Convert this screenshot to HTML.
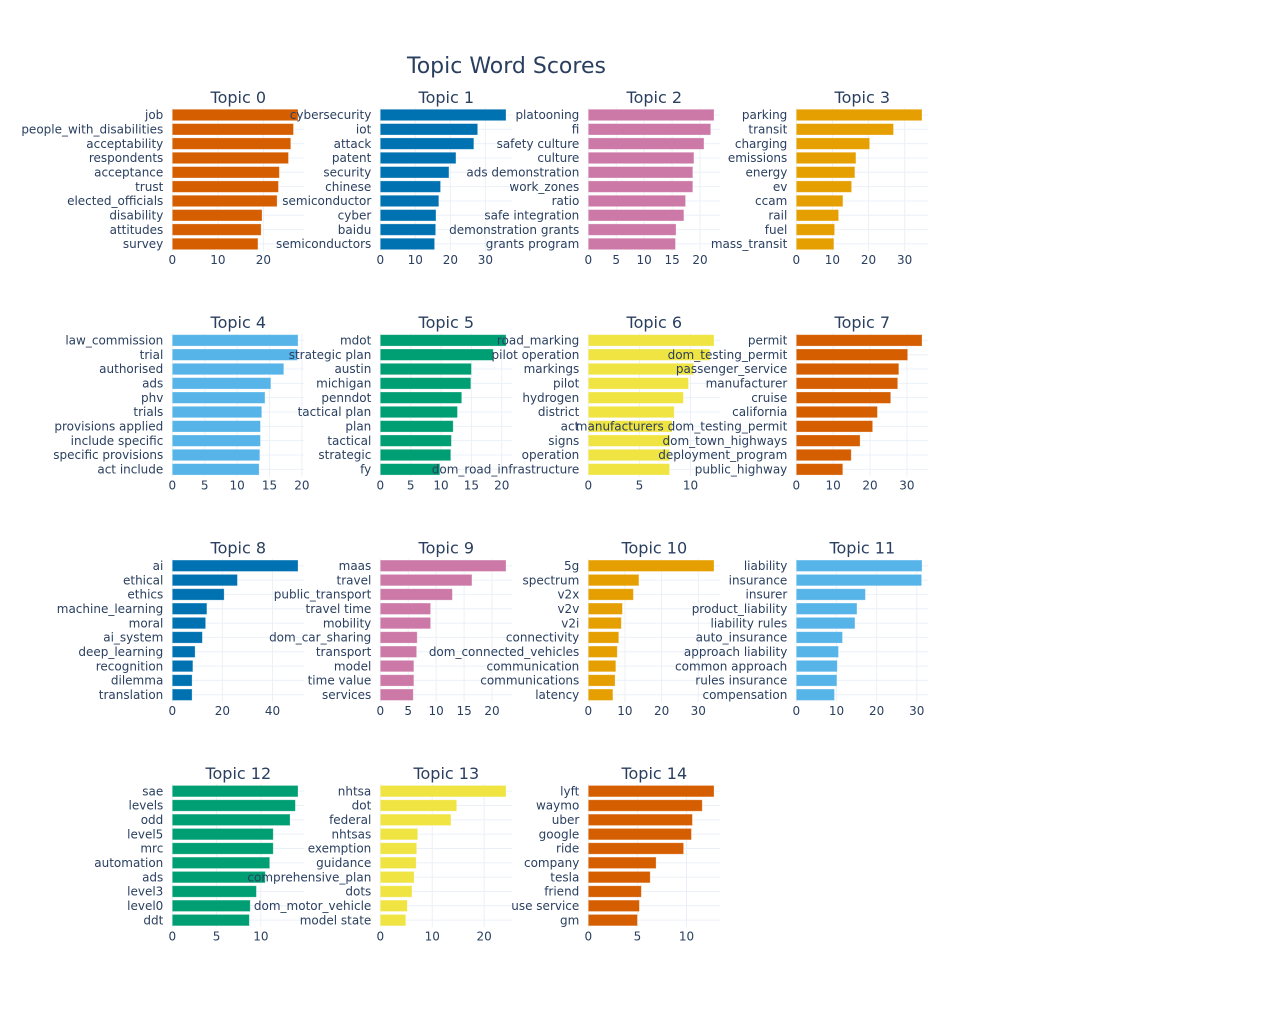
<!DOCTYPE html>
<html><head><meta charset="utf-8">
<style>
html,body{margin:0;padding:0;background:#fff;}
svg{display:block;font-family:"DejaVu Sans","Liberation Sans",sans-serif;}
</style></head>
<body>
<svg id="chart" width="1280" height="1016" viewBox="0 0 1280 1016" xmlns="http://www.w3.org/2000/svg">
<rect x="0" y="0" width="1280" height="1016" fill="#fff"/>
<text x="407" y="73" font-size="22" fill="#2a3f5f">Topic Word Scores</text>
</svg>
<script>
const topicNames = ["Topic 0","Topic 1","Topic 2","Topic 3","Topic 4","Topic 5","Topic 6","Topic 7","Topic 8","Topic 9","Topic 10","Topic 11","Topic 12","Topic 13","Topic 14"];
const words0 = ["job","people_with_disabilities","acceptability","respondents","acceptance","trust","elected_officials","disability","attitudes","survey"];
const scores0 = [27.6,26.6,26.0,25.5,23.5,23.3,23.0,19.7,19.5,18.8];
const words1 = ["cybersecurity","iot","attack","patent","security","chinese","semiconductor","cyber","baidu","semiconductors"];
const scores1 = [35.9,27.8,26.7,21.6,19.6,17.2,16.7,15.9,15.8,15.5];
const words2 = ["platooning","fi","safety culture","culture","ads demonstration","work_zones","ratio","safe integration","demonstration grants","grants program"];
const scores2 = [22.5,21.9,20.7,18.9,18.7,18.7,17.4,17.1,15.7,15.6];
const words3 = ["parking","transit","charging","emissions","energy","ev","ccam","rail","fuel","mass_transit"];
const scores3 = [34.8,26.9,20.3,16.5,16.2,15.3,12.9,11.7,10.6,10.4];
const words4 = ["law_commission","trial","authorised","ads","phv","trials","provisions applied","include specific","specific provisions","act include"];
const scores4 = [19.4,19.3,17.2,15.2,14.3,13.8,13.6,13.6,13.5,13.4];
const words5 = ["mdot","strategic plan","austin","michigan","penndot","tactical plan","plan","tactical","strategic","fy"];
const scores5 = [20.7,18.6,15.0,14.9,13.4,12.7,12.0,11.7,11.6,9.8];
const words6 = ["road_marking","pilot operation","markings","pilot","hydrogen","district","act","signs","operation","dom_road_infrastructure"];
const scores6 = [12.3,11.9,10.3,9.8,9.3,8.4,8.2,8.0,7.95,7.95];
const words7 = ["permit","dom_testing_permit","passenger_service","manufacturer","cruise","california","manufacturers dom_testing_permit","dom_town_highways","deployment_program","public_highway"];
const scores7 = [34.1,30.2,27.8,27.5,25.6,22.0,20.7,17.3,14.9,12.6];
const words8 = ["ai","ethical","ethics","machine_learning","moral","ai_system","deep_learning","recognition","dilemma","translation"];
const scores8 = [50.2,26.0,20.7,13.8,13.3,12.0,9.1,8.2,7.9,7.9];
const words9 = ["maas","travel","public_transport","travel time","mobility","dom_car_sharing","transport","model","time value","services"];
const scores9 = [22.5,16.4,12.9,9.0,9.0,6.6,6.5,6.0,6.0,5.9];
const words10 = ["5g","spectrum","v2x","v2v","v2i","connectivity","dom_connected_vehicles","communication","communications","latency"];
const scores10 = [34.3,13.8,12.3,9.3,9.0,8.3,7.9,7.5,7.3,6.7];
const words11 = ["liability","insurance","insurer","product_liability","liability rules","auto_insurance","approach liability","common approach","rules insurance","compensation"];
const scores11 = [31.3,31.2,17.2,15.1,14.6,11.5,10.5,10.2,10.1,9.5];
const words12 = ["sae","levels","odd","level5","mrc","automation","ads","level3","level0","ddt"];
const scores12 = [14.2,13.9,13.3,11.4,11.4,11.0,10.5,9.5,8.8,8.7];
const words13 = ["nhtsa","dot","federal","nhtsas","exemption","guidance","comprehensive_plan","dots","dom_motor_vehicle","model state"];
const scores13 = [24.2,14.7,13.6,7.2,7.0,6.9,6.5,6.1,5.2,4.9];
const words14 = ["lyft","waymo","uber","google","ride","company","tesla","friend","use service","gm"];
const scores14 = [12.8,11.6,10.6,10.5,9.7,6.9,6.3,5.4,5.2,5.0];

const allWords = [words0,words1,words2,words3,words4,words5,words6,words7,words8,words9,words10,words11,words12,words13,words14];
const allScores = [scores0,scores1,scores2,scores3,scores4,scores5,scores6,scores7,scores8,scores9,scores10,scores11,scores12,scores13,scores14];
const palette = ["#D55E00","#0072B2","#CC79A7","#E69F00","#56B4E9","#009E73","#F0E442"];

const NS = "http://www.w3.org/2000/svg";
const svg = document.getElementById("chart");
const gridLayer = document.createElementNS(NS,"g");
const barLayer = document.createElementNS(NS,"g");
const textLayer = document.createElementNS(NS,"g");
svg.appendChild(gridLayer); svg.appendChild(barLayer); svg.appendChild(textLayer);

function mk(tag, attrs, parent){
  const e = document.createElementNS(NS, tag);
  for (const k in attrs) e.setAttribute(k, attrs[k]);
  parent.appendChild(e);
  return e;
}

const PW = 132, BAND = 14.33;
for (let t = 0; t < allWords.length; t++){
  const col = t % 4, row = Math.floor(t / 4);
  const x0 = 172.3 + 208 * col;
  const y0 = 107.8 + 225.4 * row;
  const words = allWords[t], scores = allScores[t];
  const n = words.length;
  const maxV = Math.max(...scores) * 1.05;
  const xs = v => x0 + v / maxV * PW;
  const ys = i => y0 + (i + 0.5) * BAND;
  let step = [5,10,20,50,100].find(s => maxV / s <= 5.0);
  const panel = mk("g", {}, textLayer);
  
  
  for (let i = 0; i < n; i++){
    const gl = mk("line", {x1:x0, x2:x0+PW, y1:ys(i), y2:ys(i), stroke:"#EBF0F8", "stroke-width":1}, gridLayer);
    
    
  }
  for (let v = 0; v <= maxV; v += step){
    const gl = mk("line", {x1:xs(v), x2:xs(v), y1:y0, y2:y0+n*BAND, stroke:"#EBF0F8", "stroke-width":1}, gridLayer);
    
    
    const tl = mk("text", {x:xs(v), y:y0+n*BAND+13, "font-size":12, fill:"#2a3f5f", "text-anchor":"middle"}, panel);
    tl.textContent = String(v);
    
    
  }
  const color = palette[t % 7];
  for (let i = 0; i < n; i++){
    const b = mk("rect", {x:xs(0), y:ys(i)-5.7, width:xs(scores[i])-xs(0), height:11.4, fill:color, stroke:"rgba(255,255,255,0.35)", "stroke-width":0.8}, barLayer);
    
    
    const lbl = mk("text", {x:x0-9, y:ys(i)+4.2, "font-size":12, fill:"#2a3f5f", "text-anchor":"end"}, panel);
    lbl.textContent = words[i];
    
    
  }
  const title = mk("text", {x:x0+PW/2, y:y0-5, "font-size":16, fill:"#2a3f5f", "text-anchor":"middle"}, panel);
  title.textContent = topicNames[t];
  
  
}
</script>
</body></html>
